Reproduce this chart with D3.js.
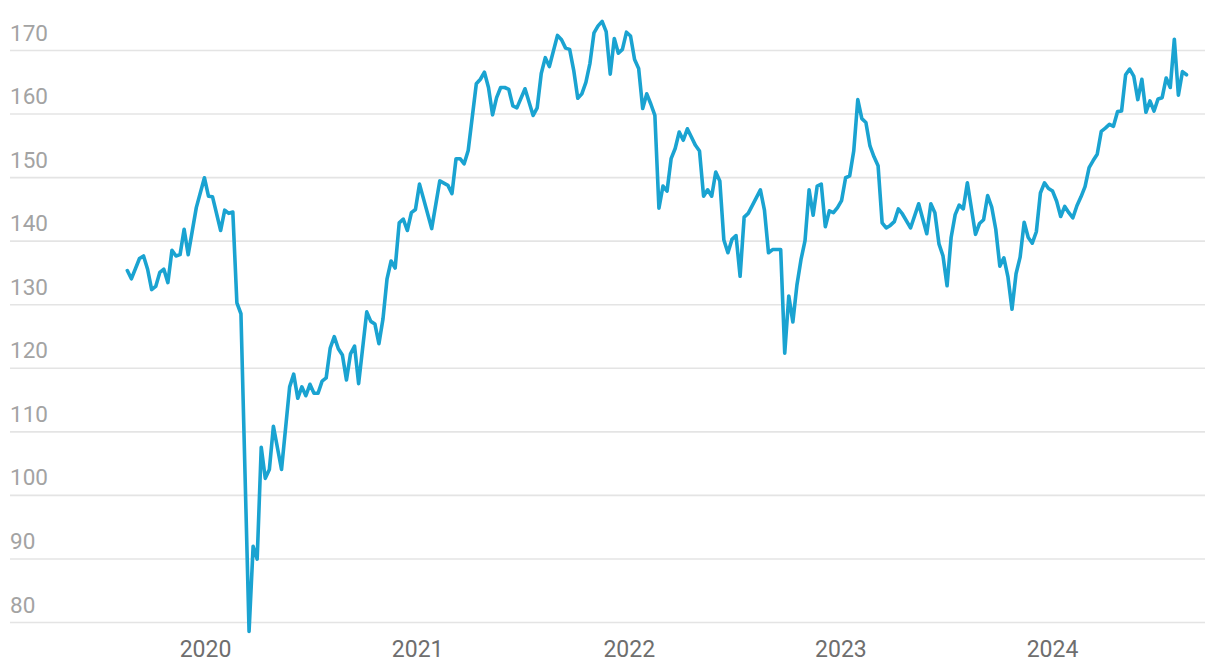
<!DOCTYPE html>
<html>
<head>
<meta charset="utf-8">
<script src="https://cdn.jsdelivr.net/npm/d3@7"></script>
<style>
  html, body { margin: 0; padding: 0; background: #ffffff; }
  svg { display: block; font-family: Roboto, "Noto Sans", sans-serif; }
</style>
</head>
<body>
<svg id="chart" width="1220" height="672"></svg>
<script>
const startDate = "2019-08-20";
const weekIdx = [0,1,3,4,5,6,7,8,9,10,11,12,13,14,15,16,17,19,20,21,23,24,25,26,27,28,30,31,32,33,34,35,36,38,40,41,42,43,44,45,46,47,48,49,50,51,52,53,54,55,56,57,59,60,61,62,63,64,65,66,67,68,69,70,71,72,75,77,79,80,81,82,83,84,86,87,88,89,90,91,92,93,94,95,96,98,100,101,102,103,104,106,107,108,109,110,111,112,113,114,115,116,117,118,119,120,121,122,123,124,125,126,127,128,129,130,131,132,133,134,135,136,137,138,139,140,141,142,143,144,145,146,147,148,149,150,151,152,153,156,157,158,159,161,162,163,164,165,166,167,168,169,170,171,172,173,174,175,176,177,178,179,180,181,182,183,184,185,186,187,188,189,190,191,193,195,197,198,199,200,201,202,203,204,205,206,207,209,210,211,212,213,214,215,216,217,218,219,220,221,222,223,224,225,226,227,228,229,230,231,232,233,234,235,236,237,238,239,240,241,242,243,244,245,246,247,248,249,250,251,252,253,254,255,256,257,258,259,260,261];
const values = [135.3,134.0,137.2,137.6,135.5,132.3,132.8,135.0,135.5,133.4,138.5,137.6,137.8,141.8,137.8,141.5,145.2,149.9,147.0,146.9,141.6,144.8,144.3,144.5,130.2,128.5,78.5,91.9,89.9,107.5,102.6,104.0,110.8,104.0,117.0,119.0,115.2,117.0,115.6,117.4,116.0,116.0,117.9,118.4,123.1,124.9,123.0,122.0,118.1,122.2,123.4,117.5,128.8,127.3,126.9,123.8,127.7,134.0,136.8,135.7,142.8,143.4,141.6,144.4,144.9,148.9,141.9,149.4,148.7,147.4,152.9,152.9,152.1,154.2,164.7,165.4,166.5,164.1,159.8,162.5,164.1,164.1,163.8,161.2,160.9,163.9,159.7,160.9,166.3,168.8,167.4,172.3,171.6,170.3,170.1,166.8,162.4,163.1,164.9,167.9,172.7,173.8,174.5,172.9,166.2,171.8,169.5,170.1,172.8,172.2,168.5,167.1,160.8,163.1,161.5,159.7,145.1,148.6,147.8,152.9,154.5,157.1,155.8,157.6,156.3,155.0,154.1,147.0,148.0,147.0,150.8,149.4,140.1,138.1,140.2,140.8,134.4,143.7,144.3,148.0,144.8,138.1,138.6,138.6,122.3,131.3,127.2,133.0,137.0,140.0,148.0,144.0,148.6,148.9,142.2,144.7,144.4,145.2,146.3,149.9,150.2,154.1,162.2,159.2,158.6,154.9,153.2,151.8,142.8,142.0,142.4,143.0,145.0,144.2,142.0,145.8,141.1,145.8,144.4,139.5,137.6,132.9,140.5,144.1,145.6,145.0,149.1,141.0,142.7,143.3,147.1,145.3,141.8,136.0,137.3,134.3,129.2,134.8,137.4,142.9,140.5,139.6,141.4,147.5,149.1,148.2,147.8,146.2,143.8,145.4,144.4,143.6,145.5,146.9,148.5,151.5,152.6,153.6,157.2,157.7,158.3,158.0,160.3,160.4,166.1,167.0,165.9,162.2,165.4,160.2,162.0,160.4,162.3,162.5,165.6,164.1,171.7,162.9,166.6,166.1];
const yTicks = [80,90,100,110,120,130,140,150,160,170];
const xTickYears = ["2020","2021","2022","2023","2024"];

// ---- build ----
const parse = d3.utcParse("%Y-%m-%d");
const t0 = parse(startDate);
const data = weekIdx.map((w, i) => ({ date: d3.utcDay.offset(t0, w * 7), value: values[i] }));

const svg = d3.select("#chart");
const gridLeft = 10, gridRight = 1205;

const x = d3.scaleUtc()
  .domain([d3.utcParse("%Y")("2020"), d3.utcParse("%Y")("2024")])
  .range([205, 1052]);
const y = d3.scaleLinear().domain([80, 170]).range([622, 50]);

// y gridlines + labels
const yAxis = svg.append("g")
  .attr("transform", `translate(${gridLeft},0)`)
  .call(d3.axisRight(y).tickValues(yTicks).tickSize(gridRight - gridLeft).tickFormat(d3.format("d")));
yAxis.select(".domain").remove();
yAxis.selectAll(".tick line").attr("stroke", "#e4e4e4").attr("stroke-width", 1.6);
yAxis.selectAll(".tick text")
  .attr("x", 0).attr("dy", -10).attr("dx", 0)
  .attr("text-anchor", "start")
  .attr("fill", "#a3a3a3")
  .style("font-size", "22.5px")
  .style("font-family", "Roboto, sans-serif");

// x labels
const xAxis = svg.append("g")
  .attr("transform", "translate(0,636)")
  .call(d3.axisBottom(x).tickValues(xTickYears.map(d3.utcParse("%Y"))).tickSize(0).tickFormat(d3.utcFormat("%Y")));
xAxis.select(".domain").remove();
xAxis.selectAll(".tick text")
  .attr("y", 0).attr("dy", "0.93em")
  .attr("fill", "#6e6e6e")
  .style("font-size", "23px")
  .style("font-family", "Roboto, sans-serif");

// line
const line = d3.line().x(d => x(d.date)).y(d => y(d.value));
svg.append("path")
  .datum(data)
  .attr("d", line)
  .attr("fill", "none")
  .attr("stroke", "#1aa3d1")
  .attr("stroke-width", 3.6)
  .attr("stroke-linejoin", "round")
  .attr("stroke-linecap", "round");
</script>
</body>
</html>
